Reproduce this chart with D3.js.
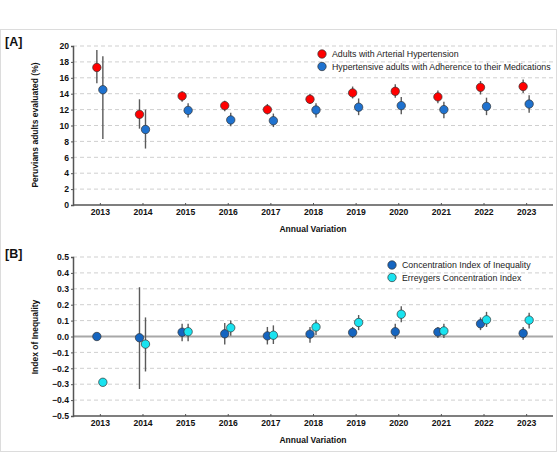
<!DOCTYPE html>
<html>
<head>
<meta charset="utf-8">
<script src="https://cdn.jsdelivr.net/npm/d3@7"></script>
<style>
body { margin: 0; background: #fff; }
svg { display: block; font-family: "Liberation Sans", Arial, sans-serif; }
.tick text { font-weight: bold; font-size: 8.6px; fill: #111; }
</style>
</head>
<body>
<script>
var w = 560;
var h = 453;

var years = ["2013", "2014", "2015", "2016", "2017", "2018", "2019", "2020", "2021", "2022", "2023"];

// panel A: prevalence (%) with 95% CI
var htaVal = [17.3, 11.4, 13.7, 12.5, 12.0, 13.3, 14.1, 14.3, 13.6, 14.8, 14.9];
var htaLow = [15.3, 9.6, 13.0, 11.8, 11.4, 12.7, 13.4, 13.5, 12.8, 13.9, 14.1];
var htaHigh = [19.5, 13.3, 14.3, 13.1, 12.7, 14.0, 14.9, 15.2, 14.4, 15.6, 15.8];

var adhVal = [14.5, 9.5, 11.9, 10.7, 10.6, 11.95, 12.3, 12.5, 12.0, 12.4, 12.7];
var adhLow = [8.3, 7.1, 11.0, 9.9, 9.8, 11.0, 11.3, 11.4, 10.9, 11.3, 11.6];
var adhHigh = [18.7, 12.0, 12.8, 11.6, 11.5, 12.8, 13.4, 13.6, 13.0, 13.5, 13.8];

// panel B: inequality indices with 95% CI
var ciVal = [0.0, -0.008, 0.027, 0.017, 0.004, 0.015, 0.025, 0.03, 0.028, 0.08, 0.02];
var ciLow = [0.0, -0.33, -0.03, -0.05, -0.05, -0.04, -0.01, -0.015, -0.01, 0.04, -0.02];
var ciHigh = [0.0, 0.31, 0.08, 0.085, 0.06, 0.06, 0.06, 0.08, 0.06, 0.12, 0.06];

var eciVal = [-0.288, -0.048, 0.03, 0.055, 0.008, 0.06, 0.088, 0.14, 0.035, 0.105, 0.103];
var eciLow = [-0.288, -0.22, -0.03, 0.005, -0.047, 0.01, 0.04, 0.09, -0.01, 0.06, 0.05];
var eciHigh = [-0.288, 0.12, 0.08, 0.1, 0.07, 0.105, 0.135, 0.19, 0.08, 0.155, 0.15];

var ticksA = [0, 2, 4, 6, 8, 10, 12, 14, 16, 18, 20];
var ticksB = [-0.5, -0.4, -0.3, -0.2, -0.1, 0, 0.1, 0.2, 0.3, 0.4, 0.5];

var svg = d3.select("body").append("svg")
    .attr("width", w)
    .attr("height", h);

// outer frame
svg.append("rect")
    .attr("x", 0.5).attr("y", 29.5)
    .attr("width", 556).attr("height", 422)
    .attr("fill", "none")
    .attr("stroke", "#dcdcdc");

var left = 73, right = 553;

function series(vals, lows, highs, name, color) {
    return { name: name, color: color,
             pts: years.map(function (y, i) {
                 return { year: y, v: vals[i], lo: lows[i], hi: highs[i] };
             }) };
}

function panel(opt) {
    var xScale = d3.scalePoint()
        .domain(years)
        .range([left, right])
        .padding(0.63);
    var yScale = d3.scaleLinear()
        .domain(opt.domain)
        .range([opt.bottom, opt.top]);

    var g = svg.append("g");

    // dashed grid
    g.selectAll("line.grid")
        .data(opt.ticks.filter(function (d) { return d !== opt.domain[0]; }))
        .enter()
        .append("line")
        .attr("class", "grid")
        .attr("x1", left).attr("x2", right)
        .attr("y1", function (d) { return yScale(d); })
        .attr("y2", function (d) { return yScale(d); })
        .attr("stroke", "#cfcfcf")
        .attr("stroke-width", 1)
        .attr("stroke-dasharray", "4,3");

    if (opt.zeroLine) {
        g.append("line")
            .attr("x1", left).attr("x2", right)
            .attr("y1", yScale(0)).attr("y2", yScale(0))
            .attr("stroke", "#a8a8a8")
            .attr("stroke-width", 2);
    }

    var yAxis = d3.axisLeft(yScale)
        .tickValues(opt.ticks)
        .tickSize(2)
        .tickPadding(2)
        .tickFormat(opt.fmt);
    var ya = g.append("g")
        .attr("transform", "translate(" + left + ",0)")
        .call(yAxis);
    ya.select(".domain").attr("stroke", "#555").attr("stroke-width", 1.5);
    ya.selectAll(".tick line").attr("stroke", "#555");

    var xAxis = d3.axisBottom(xScale)
        .tickSize(-2)
        .tickPadding(4);
    var xa = g.append("g")
        .attr("transform", "translate(0," + opt.bottom + ")")
        .call(xAxis);
    xa.select(".domain").attr("stroke", "#555").attr("stroke-width", 1.5)
        .attr("d", "M" + left + ",0H" + right);
    xa.selectAll(".tick line").attr("stroke", "#555");

    // series
    opt.series.forEach(function (s, k) {
        var off = k === 0 ? -3 : 3;
        var sg = g.append("g");
        sg.selectAll("line.err")
            .data(s.pts)
            .enter()
            .append("line")
            .attr("class", "err")
            .attr("x1", function (d) { return xScale(d.year) + off; })
            .attr("x2", function (d) { return xScale(d.year) + off; })
            .attr("y1", function (d) { return yScale(d.lo); })
            .attr("y2", function (d) { return yScale(d.hi); })
            .attr("stroke", "#5a5a5a")
            .attr("stroke-width", 1.4);
        sg.selectAll("circle")
            .data(s.pts)
            .enter()
            .append("circle")
            .attr("cx", function (d) { return xScale(d.year) + off; })
            .attr("cy", function (d) { return yScale(d.v); })
            .attr("r", 4.2)
            .attr("fill", s.color)
            .attr("stroke", "#333")
            .attr("stroke-width", 0.7);
    });

    // legend
    var lg = g.append("g");
    opt.series.forEach(function (s, k) {
        lg.append("circle")
            .attr("cx", opt.legX)
            .attr("cy", opt.legY + k * 12.5)
            .attr("r", 4.2)
            .attr("fill", s.color)
            .attr("stroke", "#333")
            .attr("stroke-width", 0.7);
        lg.append("text")
            .attr("x", opt.legX + 10)
            .attr("y", opt.legY + k * 12.5 + 3)
            .attr("font-size", "8.8px")
            .attr("fill", "#222")
            .text(s.name);
    });

    // titles
    g.append("text")
        .attr("transform", "translate(38," + opt.yTitleY + ") rotate(-90)")
        .attr("text-anchor", "middle")
        .attr("font-size", "8.5px")
        .attr("font-weight", "bold")
        .attr("fill", "#111")
        .text(opt.yTitle);
    g.append("text")
        .attr("x", 313)
        .attr("y", opt.bottom + 27)
        .attr("text-anchor", "middle")
        .attr("font-size", "8.5px")
        .attr("font-weight", "bold")
        .attr("fill", "#111")
        .text("Annual Variation");
    g.append("text")
        .attr("x", 5)
        .attr("y", opt.labelY)
        .attr("font-size", "12.5px")
        .attr("font-weight", "bold")
        .attr("fill", "#111")
        .text(opt.label);
}

panel({
    domain: [0, 20], top: 46, bottom: 205,
    ticks: ticksA, fmt: d3.format("d"),
    zeroLine: false,
    series: [
        series(htaVal, htaLow, htaHigh, "Adults with Arterial Hypertension", "#ff0000"),
        series(adhVal, adhLow, adhHigh, "Hypertensive adults with Adherence to their Medications", "#1f72cf")
    ],
    legX: 322, legY: 54,
    yTitle: "Peruvians adults evaluated (%)", yTitleY: 125,
    label: "[A]", labelY: 46
});

panel({
    domain: [-0.5, 0.5], top: 257, bottom: 416,
    ticks: ticksB, fmt: d3.format(".1f"),
    zeroLine: true,
    series: [
        series(ciVal, ciLow, ciHigh, "Concentration Index of Inequality", "#1565c0"),
        series(eciVal, eciLow, eciHigh, "Erreygers Concentration Index", "#19e3f0")
    ],
    legX: 392, legY: 265,
    yTitle: "Index of Inequality", yTitleY: 337,
    label: "[B]", labelY: 258
});
</script>
</body>
</html>
